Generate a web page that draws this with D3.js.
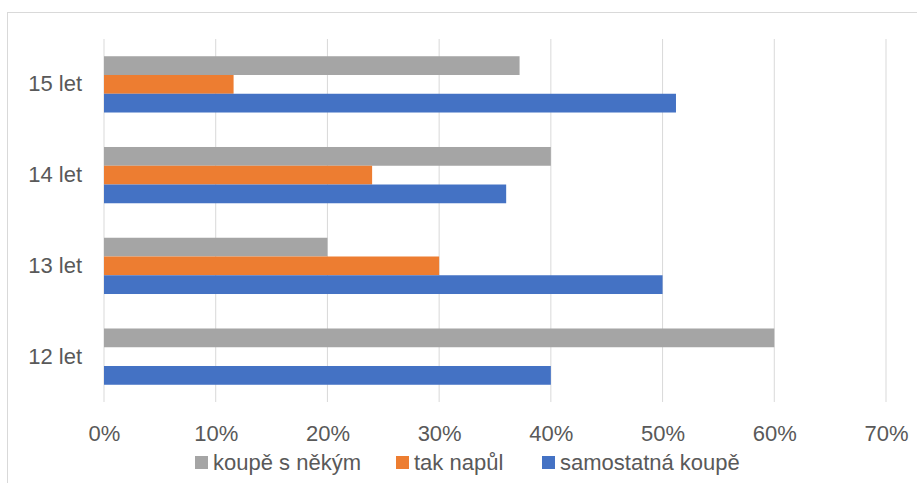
<!DOCTYPE html>
<html>
<head>
<meta charset="utf-8">
<script src="https://cdn.jsdelivr.net/npm/d3@7"></script>
<style>
  body { margin: 0; background: #fff; }
  svg text { font-family: "Liberation Sans", Arial, sans-serif; fill: #595959; }
</style>
</head>
<body>
<div id="chart"></div>
<script>
// data
var categories = ["12 let", "13 let", "14 let", "15 let"];
var seriesNames = ["koupě s někým", "tak napůl", "samostatná koupě"];
var sNekym = [0.60, 0.20, 0.40, 0.372];
var takNapul = [0, 0.30, 0.24, 0.116];
var samostatna = [0.40, 0.50, 0.36, 0.512];
var xTicks = [0, 0.1, 0.2, 0.3, 0.4, 0.5, 0.6, 0.7];
var colors = ["#a5a5a5", "#ed7d31", "#4472c4"];

var values = [sNekym, takNapul, samostatna];

var W = 917, H = 483;
var svg = d3.select("#chart").append("svg")
  .attr("width", W)
  .attr("height", H);

// chart border
svg.append("rect")
  .attr("x", 7.5).attr("y", 12.5)
  .attr("width", W + 20).attr("height", H + 20)
  .attr("fill", "none")
  .attr("stroke", "#d9d9d9");

var x = d3.scaleLinear().domain([0, 0.7]).range([104, 886]);
var y = d3.scaleBand()
  .domain(categories.slice().reverse())
  .range([39, 402])
  .paddingInner(0.38)
  .paddingOuter(0.19);
var ySub = d3.scaleBand()
  .domain(seriesNames)
  .range([0, y.bandwidth()]);

// gridlines
svg.append("g").selectAll("line")
  .data(xTicks)
  .enter().append("line")
  .attr("x1", function(d) { return x(d); })
  .attr("x2", function(d) { return x(d); })
  .attr("y1", 39).attr("y2", 402)
  .attr("stroke", "#d9d9d9")
  .attr("stroke-width", 1);

// bars
var rows = [];
categories.forEach(function(c, i) {
  seriesNames.forEach(function(s, j) {
    rows.push({ cat: c, s: s, v: values[j][i], color: colors[j] });
  });
});

svg.append("g").selectAll("rect")
  .data(rows)
  .enter().append("rect")
  .attr("x", x(0))
  .attr("y", function(d) { return y(d.cat) + ySub(d.s); })
  .attr("width", function(d) { return x(d.v) - x(0); })
  .attr("height", ySub.bandwidth())
  .attr("fill", function(d) { return d.color; });

// x axis labels
var xAxis = d3.axisBottom(x).tickValues(xTicks).tickFormat(d3.format(".0%")).tickSize(0).tickPadding(0);
var gx = svg.append("g").attr("transform", "translate(0,424)").call(xAxis);
gx.select(".domain").remove();
gx.selectAll("text")
  .attr("dy", "0.75em")
  .style("font-size", "22px")
  .style("font-family", "Liberation Sans, Arial, sans-serif")
  .attr("fill", "#595959");

// y axis labels
var yAxis = d3.axisLeft(y).tickSize(0).tickPadding(0);
var gy = svg.append("g").attr("transform", "translate(82,0)").call(yAxis);
gy.select(".domain").remove();
gy.selectAll("text")
  .style("font-size", "22px")
  .style("font-family", "Liberation Sans, Arial, sans-serif")
  .attr("fill", "#595959");

// legend
var legendX = [195, 396, 542];
var leg = svg.append("g").selectAll("g")
  .data(seriesNames)
  .enter().append("g")
  .attr("transform", function(d, i) { return "translate(" + legendX[i] + ",456)"; });
leg.append("rect")
  .attr("width", 13).attr("height", 13)
  .attr("fill", function(d, i) { return colors[i]; });
leg.append("text")
  .attr("x", 18).attr("y", 6.5)
  .attr("dy", "0.35em")
  .style("font-size", "22px")
  .text(function(d) { return d; });
</script>
</body>
</html>
